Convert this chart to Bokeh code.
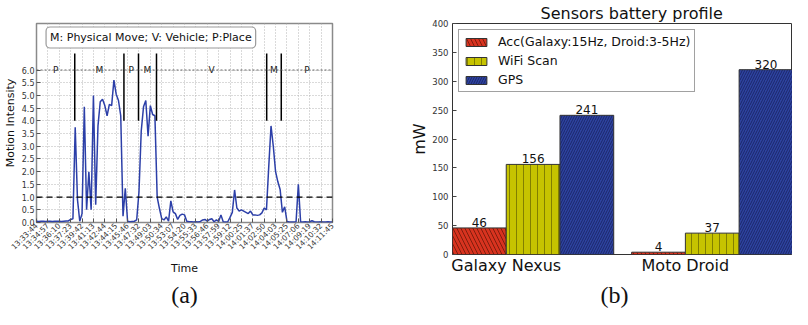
import math
from bokeh.plotting import figure
from bokeh.models import (Range1d, FixedTicker, Span, Label, LinearAxis, ColumnDataSource,
                          Legend, LegendItem, PrintfTickFormatter, Grid, Title)
from bokeh.layouts import row
from bokeh.embed import file_html
from bokeh.resources import INLINE
from bokeh.core.properties import value

# ---------------- data: panel (a) ----------------
time_labels = ["13:33:44", "13:34:57", "13:36:10", "13:37:23", "13:39:42", "13:41:13", "13:42:44",
               "13:44:15", "13:45:46", "13:47:32", "13:49:03", "13:50:34", "13:53:07", "13:54:20",
               "13:55:33", "13:56:46", "13:57:59", "13:59:12", "14:00:25", "14:01:37", "14:02:50",
               "14:04:03", "14:05:25", "14:07:06", "14:09:19", "14:10:32", "14:11:45"]
samples_per_tick = 5

motion = [0.05, 0.04, 0.05, 0.05, 0.04, 0.05, 0.05, 0.04, 0.05, 0.05, 0.05, 0.04, 0.05, 0.06,
          0.06, 0.12, 0.15, 3.75, 0.9, 0.05, 0.35, 4.55, 0.5, 2.0, 0.5, 5.0, 0.7, 3.8,
          4.75, 4.85, 4.6, 4.2, 4.65, 4.6, 5.6, 5.05, 4.8, 4.2, 0.25, 1.35, 0.05, 0.03,
          0.04, 0.05, 0.1, 1.2, 3.6, 4.55, 4.8, 3.4, 4.6, 4.25, 4.2, 1.0, 0.55, 0.15,
          0.1, 0.22, 0.05, 0.85, 0.42, 0.35, 0.12, 0.28, 0.33, 0.3, 0.05, 0.03, 0.03, 0.02,
          0.03, 0.02, 0.04, 0.1, 0.12, 0.05, 0.12, 0.15, 0.03, 0.1, 0.04, 0.3, 0.03, 0.02,
          0.03, 0.2, 0.4, 1.28, 0.57, 0.45, 0.5, 0.45, 0.4, 0.35, 0.45, 0.3, 0.3, 0.28,
          0.3, 0.38, 0.57, 0.5, 2.2, 3.8, 3.0, 2.0, 1.6, 1.3, 0.4, 0.62, 0.04, 0.02,
          0.02, 0.02, 0.03, 1.5, 0.02, 0.02, 0.03, 0.02, 0.03, 0.07,
          0.03, 0.02, 0.02, 0.03, 0.02, 0.02, 0.03, 0.02, 0.02]

activity_bounds = [0, 16.8, 38.4, 44.8, 52.7, 101.1, 107.5, 130]
activity_labels = ["P", "M", "P", "M", "V", "M", "P"]
activity_level = 6.0
bar_bottom, bar_top = 4.0, 6.65
threshold = 1.0
y_ticks_a = [0.0, 0.5, 1.0, 1.5, 2.0, 2.5, 3.0, 3.5, 4.0, 4.5, 5.0, 5.5, 6.0]
legend_text = "M: Physical Move; V: Vehicle; P:Place"

# ---------------- data: panel (b) ----------------
devices = ["Galaxy Nexus", "Moto Droid"]
acc = [46, 4]
wifi = [156, 37]
gps = [241, 320]
series_names = ["Acc(Galaxy:15Hz, Droid:3-5Hz)", "WiFi Scan", "GPS"]
y_ticks_b = [0, 50, 100, 150, 200, 250, 300, 350, 400]

FONT = "DejaVu Sans"

# ================= panel (a) =================
idx = list(range(len(motion)))
x_max = (len(time_labels) - 1) * samples_per_tick
pA = figure(width=400, height=309, x_range=Range1d(0, x_max), y_range=Range1d(0, 7.83),
            output_backend="svg", toolbar_location=None,
            min_border_left=34, min_border_right=68, min_border_top=23, min_border_bottom=77,
            x_axis_type=None, y_axis_type=None)
pA.frame_align = False
pA.outline_line_color = "#8a8a8a"
pA.outline_line_width = 1.5
pA.background_fill_color = "white"
pA.border_fill_color = "white"

xt = [i * samples_per_tick for i in range(len(time_labels))]
xax = LinearAxis(ticker=FixedTicker(ticks=xt),
                 major_label_overrides={t: lab for t, lab in zip(xt, time_labels)},
                 major_label_orientation=math.pi / 4,
                 major_label_text_font=FONT, major_label_text_font_size="7.5px",
                 major_label_text_color="#333333", major_label_standoff=2,
                 major_tick_in=4, major_tick_out=0, minor_tick_line_color=None,
                 axis_line_color=None, major_tick_line_color="#555555",
                 axis_label="Time", axis_label_text_font=FONT, axis_label_text_font_size="11px",
                 axis_label_text_font_style="normal", axis_label_text_color="#111111",
                 axis_label_standoff=4)
pA.add_layout(xax, "below")

yax = LinearAxis(ticker=FixedTicker(ticks=y_ticks_a), formatter=PrintfTickFormatter(format="%.1f"),
                 major_label_text_font=FONT, major_label_text_font_size="8px",
                 major_label_text_color="#333333", major_label_standoff=2,
                 major_tick_in=4, major_tick_out=0, minor_tick_line_color=None,
                 axis_line_color=None, major_tick_line_color="#555555",
                 axis_label="Motion Intensity", axis_label_text_font=FONT,
                 axis_label_text_font_size="11px", axis_label_text_font_style="normal",
                 axis_label_text_color="#111111", axis_label_standoff=2)
pA.add_layout(yax, "left")

pA.add_layout(Title(text="(a)", align="center", text_font="Liberation Serif",
                    text_font_size="24px", text_font_style="normal", text_color="#111111",
                    standoff=4), "below")

pA.xgrid.grid_line_color = None
pA.ygrid.grid_line_color = None
pA.add_layout(Grid(dimension=0, ticker=FixedTicker(ticks=xt), grid_line_color="#b5b5b5",
                   grid_line_dash="1 2", grid_line_width=1))
pA.add_layout(Grid(dimension=1, ticker=FixedTicker(ticks=y_ticks_a), grid_line_color="#b5b5b5",
                   grid_line_dash="1 2", grid_line_width=1))

pA.add_layout(Span(location=activity_level, dimension="width", line_color="#555555",
                   line_dash="2 2", line_width=0.9))
pA.add_layout(Span(location=threshold, dimension="width", line_color="black",
                   line_dash="6 4", line_width=1.3))

pA.line(x=idx, y=motion, line_color="#2c3fa8", line_width=1.5)

inner = activity_bounds[1:-1]
pA.segment(x0=inner, y0=[bar_bottom] * len(inner), x1=inner, y1=[bar_top] * len(inner),
           line_color="black", line_width=1.5)
mids = [(a + b) / 2 for a, b in zip(activity_bounds[:-1], activity_bounds[1:])]
pA.text(x=mids, y=[activity_level] * len(mids), text=activity_labels,
        text_font=value(FONT), text_font_size="9px", text_color="#222222",
        text_align="center", text_baseline="middle")

pA.add_layout(Label(x=4.2, y=7.28, text=legend_text, text_font=FONT, text_font_size="11px",
                    text_color="#111111", text_baseline="middle", text_align="left",
                    background_fill_color="white", border_line_color="#999999",
                    border_line_width=1.2, padding=4, border_radius=4))

# ================= panel (b) =================
pB = figure(width=392, height=309, x_range=Range1d(0, 1.898), y_range=Range1d(0, 400),
            output_backend="svg", toolbar_location=None,
            min_border_left=52, min_border_right=0, min_border_top=23, min_border_bottom=54,
            x_axis_type=None, y_axis_type=None)
pB.frame_align = False
pB.outline_line_color = "#333333"
pB.outline_line_width = 1
pB.xgrid.grid_line_color = None
pB.ygrid.grid_line_color = None

grp = list(range(len(devices)))
bar_w = 0.3
bx_ax = LinearAxis(ticker=FixedTicker(ticks=[g + bar_w for g in grp]),
                   major_label_overrides={g + bar_w: d for g, d in zip(grp, devices)},
                   major_label_text_font=FONT, major_label_text_font_size="16px",
                   major_label_text_color="#111111", major_label_standoff=1,
                   major_tick_in=4, major_tick_out=0, minor_tick_line_color=None,
                   axis_line_color=None, major_tick_line_color="#444444")
pB.add_layout(bx_ax, "below")
by_ax = LinearAxis(ticker=FixedTicker(ticks=y_ticks_b),
                   major_label_text_font=FONT, major_label_text_font_size="8.5px",
                   major_label_text_color="#333333", major_label_standoff=4,
                   major_tick_in=4, major_tick_out=0, minor_tick_line_color=None,
                   axis_line_color=None, major_tick_line_color="#444444",
                   axis_label="mW", axis_label_text_font=FONT, axis_label_text_font_size="16px",
                   axis_label_text_font_style="normal", axis_label_text_color="#111111",
                   axis_label_standoff=0)
pB.add_layout(by_ax, "left")

pB.add_layout(Title(text="Sensors battery profile", align="left", offset=88,
                    text_font=FONT, text_font_size="16px", text_font_style="normal",
                    text_color="#111111", standoff=1), "above")
pB.add_layout(Title(text="(b)", align="left", offset=148, text_font="Liberation Serif",
                    text_font_size="24px", text_font_style="normal", text_color="#111111",
                    standoff=4), "below")

styles = [("#d8331f", "left_diagonal_line", 8, "#3a0a00"),
          ("#c6c300", "vertical_line", 7, "#4a4a00"),
          ("#2e43a0", "right_diagonal_line", 5, "#0a1040")]
renderers = []
for k, (vals, (col, hatch, hs, hc)) in enumerate(zip([acc, wifi, gps], styles)):
    xs = [g + k * bar_w + bar_w / 2 for g in grp]
    src = ColumnDataSource(dict(x=xs, top=vals, lab=[str(v) for v in vals]))
    r = pB.vbar(x="x", top="top", width=bar_w, source=src, fill_color=col, line_color="#333333",
                line_width=1, hatch_pattern=hatch, hatch_scale=hs, hatch_color=hc,
                hatch_alpha=0.7, hatch_weight=0.8)
    renderers.append(r)
    pB.text(x="x", y="top", text="lab", source=src, text_font=value(FONT), text_font_size="12px",
            text_color="#111111", text_align="center", text_baseline="bottom", y_offset=-1)

legend = Legend(items=[LegendItem(label=n, renderers=[r]) for n, r in zip(series_names, renderers)],
                location="top_left", margin=6, padding=4, spacing=4, label_height=15,
                glyph_height=10, glyph_width=26, label_standoff=9,
                label_text_font=FONT, label_text_font_size="12.5px", label_text_color="#111111",
                border_line_color="#444444", border_line_width=1, background_fill_alpha=1)
pB.add_layout(legend)

layout = row(pA, pB)
open("out.html", "w").write(file_html(layout, INLINE))
